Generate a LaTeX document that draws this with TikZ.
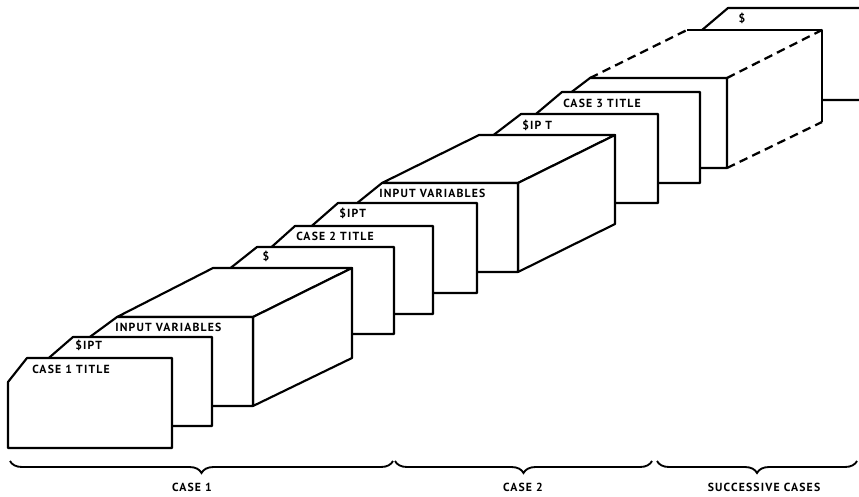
\documentclass[tikz,border=0pt]{standalone}
\usepackage{fontspec}
\newfontfamily\lblfont{PT Sans}[LetterSpace=10]
\usetikzlibrary{decorations.pathreplacing}
\newcommand{\mycard}[6]{%
  \path[card] ({#1-#5},{#2+#6}) -- (#1,#2) -- (#3,#2) -- (#3,#4) -- ({#1-#5},#4) -- cycle;}
\tikzset{
  card/.style={draw=black, fill=white, line width=1.6pt, line join=round},
  face/.style={draw=black, fill=white, line width=1.6pt, line join=round},
  ghostface/.style={fill=white},
  dashedge/.style={draw=black, line width=1.7pt, dash pattern=on 6.5pt off 4pt},
  solidedge/.style={draw=black, line width=1.6pt, line join=round},
  lbl/.style={font=\lblfont\bfseries\fontsize{8.8}{10}\selectfont, inner sep=0pt, anchor=west},
  bracelbl/.style={font=\lblfont\bfseries\fontsize{8.8}{10}\selectfont, inner sep=0pt, anchor=center},
  bracepath/.style={draw=black, line width=1.4pt, decorate, decoration={brace, amplitude=9pt, mirror}}
}
\begin{document}
\begin{tikzpicture}[x=0.75pt,y=-0.75pt]
\useasboundingbox (0,0) rectangle (859,496);
% ---- successive cases (back) ----
\mycard{728}{8}{880}{100}{33}{28}
\node[bracelbl] (t11) at (742,18) {\$};
% dashed deck
\path[ghostface] (590,78) -- (687,30) -- (822,30) -- (727,78) -- cycle;
\path[ghostface] (727,78) -- (822,30) -- (822,122) -- (727,168) -- cycle;
\coordinate (d1a) at (590,78); \coordinate (d1b) at (687,30);
\coordinate (d2a) at (727,78); \coordinate (d2b) at (822,30);
\coordinate (d3a) at (727,168); \coordinate (d3b) at (822,122);
\path[dashedge] (d1a) -- (d1b);
\path[dashedge] (d2a) -- (d2b);
\path[dashedge] (d3a) -- (d3b);
\path[solidedge] (d1b) -- (d2b) -- (d3b);
\mycard{590}{78}{727}{168}{25}{19}
% case 3
\mycard{562}{92}{700}{183}{32}{27}
\node[lbl] (t9) at (563,103) {CASE 3 TITLE};
\mycard{521}{114}{658}{203}{34}{26}
\node[lbl] (t8) at (522,125) {\$IP T};
% ---- case 2 ----
\path[face] (382,183) -- (479,135) -- (615,135) -- (518,183) -- cycle;
\path[face] (518,183) -- (615,135) -- (615,224) -- (518,272) -- cycle;
\mycard{382}{183}{518}{272}{31}{25}
\node[lbl] (t7) at (379,193) {INPUT VARIABLES};
\mycard{338}{203}{477}{293}{32}{28}
\node[lbl] (t6) at (339,213) {\$IPT};
\mycard{295}{226}{433}{314}{29}{26}
\node[lbl] (t5) at (296,236) {CASE 2 TITLE};
\mycard{257}{247}{394}{334}{34}{27}
\node[bracelbl] (t4) at (266,256) {\$};
% ---- case 1 ----
\path[face] (117,317) -- (213,268) -- (352,268) -- (253,317) -- cycle;
\path[face] (253,317) -- (352,268) -- (352,358) -- (253,406) -- cycle;
\mycard{117}{317}{253}{406}{34}{25}
\node[lbl] (t3) at (115,327) {INPUT VARIABLES};
\mycard{73}{337}{212}{426}{30}{26}
\node[lbl] (t2) at (75,345) {\$IPT};
\mycard{27}{358}{172}{448}{19}{24}
\node[lbl] (t1) at (32,369) {CASE 1 TITLE};
% ---- braces ----
\coordinate (b1a) at (10,461); \coordinate (b1b) at (393,461);
\coordinate (b2a) at (395,461); \coordinate (b2b) at (652,461);
\coordinate (b3a) at (657,461); \coordinate (b3b) at (857,461);
\path[bracepath] (b1a) -- (b1b);
\path[bracepath] (b2a) -- (b2b);
\path[bracepath] (b3a) -- (b3b);
\node[bracelbl] (c1) at (192,487) {CASE 1};
\node[bracelbl] (c2) at (523,487) {CASE 2};
\node[bracelbl] (c3) at (764,487) {SUCCESSIVE CASES};
\end{tikzpicture}
\end{document}
